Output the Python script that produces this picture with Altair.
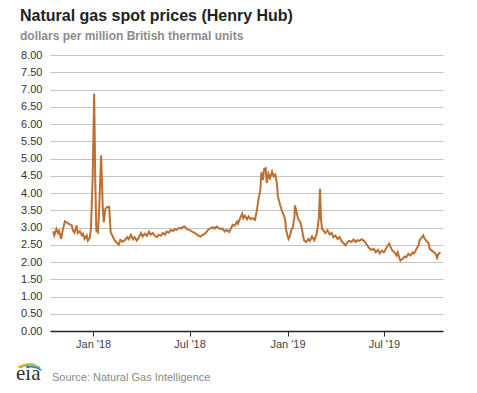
import altair as alt
import pandas as pd

# ---- data ----
dates = [
    "2017-10-18", "2017-10-20", "2017-10-24", "2017-10-27", "2017-10-29", "2017-11-02", "2017-11-04",
    "2017-11-09", "2017-11-14", "2017-11-18", "2017-11-22", "2017-11-24", "2017-11-27", "2017-12-01",
    "2017-12-03", "2017-12-07", "2017-12-11", "2017-12-13", "2017-12-16", "2017-12-20", "2017-12-22",
    "2017-12-26", "2017-12-28", "2017-12-31", "2018-01-03", "2018-01-05", "2018-01-07", "2018-01-10",
    "2018-01-12", "2018-01-16", "2018-01-19", "2018-01-21", "2018-01-24", "2018-01-27", "2018-01-31",
    "2018-02-03", "2018-02-06", "2018-02-10", "2018-02-14", "2018-02-18", "2018-02-21", "2018-02-25",
    "2018-03-02", "2018-03-06", "2018-03-09", "2018-03-13", "2018-03-17", "2018-03-20", "2018-03-24",
    "2018-03-28", "2018-04-01", "2018-04-04", "2018-04-08", "2018-04-12", "2018-04-16", "2018-04-19",
    "2018-04-23", "2018-04-27", "2018-05-01", "2018-05-04", "2018-05-08", "2018-05-12", "2018-05-16",
    "2018-05-19", "2018-05-23", "2018-05-27", "2018-05-31", "2018-06-03", "2018-06-07", "2018-06-11",
    "2018-06-15", "2018-06-18", "2018-06-22", "2018-06-26", "2018-06-30", "2018-07-03", "2018-07-07",
    "2018-07-11", "2018-07-15", "2018-07-18", "2018-07-22", "2018-07-26", "2018-07-30", "2018-08-06",
    "2018-08-10", "2018-08-14", "2018-08-17", "2018-08-21", "2018-08-25", "2018-08-29", "2018-09-01",
    "2018-09-05", "2018-09-09", "2018-09-13", "2018-09-16", "2018-09-20", "2018-09-24", "2018-09-28",
    "2018-09-30", "2018-10-04", "2018-10-08", "2018-10-10", "2018-10-13", "2018-10-17", "2018-10-20",
    "2018-10-24", "2018-10-28", "2018-11-01", "2018-11-04", "2018-11-08", "2018-11-11", "2018-11-13",
    "2018-11-16", "2018-11-18", "2018-11-21", "2018-11-23", "2018-11-26", "2018-11-29", "2018-12-03",
    "2018-12-06", "2018-12-09", "2018-12-12", "2018-12-14", "2018-12-18", "2018-12-22", "2018-12-26",
    "2018-12-28", "2018-12-29", "2019-01-01", "2019-01-03", "2019-01-06", "2019-01-08", "2019-01-11",
    "2019-01-14", "2019-01-15", "2019-01-18", "2019-01-21", "2019-01-25", "2019-01-28", "2019-02-01",
    "2019-02-05", "2019-02-09", "2019-02-12", "2019-02-16", "2019-02-20", "2019-02-24", "2019-02-26",
    "2019-03-01", "2019-03-03", "2019-03-05", "2019-03-07", "2019-03-10", "2019-03-13", "2019-03-17",
    "2019-03-21", "2019-03-25", "2019-03-28", "2019-04-01", "2019-04-05", "2019-04-09", "2019-04-12",
    "2019-04-16", "2019-04-20", "2019-04-24", "2019-04-27", "2019-05-01", "2019-05-05", "2019-05-09",
    "2019-05-12", "2019-05-16", "2019-05-20", "2019-05-24", "2019-05-28", "2019-06-01", "2019-06-05",
    "2019-06-08", "2019-06-12", "2019-06-16", "2019-06-20", "2019-06-23", "2019-06-27", "2019-07-01",
    "2019-07-05", "2019-07-08", "2019-07-11", "2019-07-13", "2019-07-17", "2019-07-21", "2019-07-25",
    "2019-07-27", "2019-07-30", "2019-08-01", "2019-08-05", "2019-08-09", "2019-08-12", "2019-08-16",
    "2019-08-20", "2019-08-24", "2019-08-27", "2019-08-31", "2019-09-04", "2019-09-06", "2019-09-10",
    "2019-09-13", "2019-09-15", "2019-09-19", "2019-09-23", "2019-09-25", "2019-09-29", "2019-10-03",
    "2019-10-06", "2019-10-09", "2019-10-11", "2019-10-15",
]
prices = [
    2.89, 2.77, 2.96, 2.84, 2.90, 2.67, 2.86,
    3.18, 3.13, 3.09, 3.06, 2.91, 2.85, 3.06,
    2.84, 2.89, 2.77, 2.82, 2.67, 2.77, 2.62,
    2.72, 3.00, 4.36, 6.88, 4.36, 2.91, 2.86,
    3.40, 5.09, 3.59, 3.15, 3.54, 3.59, 3.60,
    2.86, 2.77, 2.64, 2.57, 2.50, 2.64, 2.59,
    2.64, 2.72, 2.66, 2.79, 2.66, 2.72, 2.62,
    2.72, 2.84, 2.74, 2.82, 2.76, 2.88, 2.79,
    2.84, 2.76, 2.72, 2.79, 2.76, 2.84, 2.79,
    2.88, 2.85, 2.93, 2.90, 2.95, 2.93, 2.99,
    2.97, 3.01, 3.03, 2.95, 2.93, 2.91, 2.87,
    2.84, 2.80, 2.76, 2.74, 2.79, 2.82, 2.95,
    2.98, 3.01, 2.97, 3.03, 2.98, 2.95, 2.97,
    2.88, 2.93, 2.87, 2.95, 3.08, 3.05, 3.17,
    3.11, 3.27, 3.40, 3.27, 3.34, 3.24, 3.32,
    3.24, 3.27, 3.22, 3.46, 3.85, 4.09, 4.60,
    4.38, 4.69, 4.72, 4.29, 4.56, 4.43, 4.62,
    4.48, 4.53, 4.29, 3.90, 3.66, 3.46, 3.32,
    3.17, 2.96, 2.77, 2.67, 2.77, 2.92, 3.01,
    3.30, 3.64, 3.45, 3.25, 3.16, 2.96, 2.63,
    2.58, 2.67, 2.61, 2.74, 2.63, 2.77, 2.92,
    3.30, 4.12, 3.21, 2.96, 2.90, 2.84, 2.92,
    2.80, 2.84, 2.72, 2.77, 2.67, 2.72, 2.61,
    2.55, 2.48, 2.58, 2.61, 2.58, 2.65, 2.58,
    2.63, 2.61, 2.66, 2.62, 2.55, 2.45, 2.38,
    2.35, 2.38, 2.28, 2.35, 2.25, 2.33, 2.28,
    2.38, 2.48, 2.53, 2.45, 2.33, 2.28, 2.19,
    2.28, 2.12, 2.04, 2.09, 2.16, 2.14, 2.24,
    2.19, 2.28, 2.25, 2.38, 2.48, 2.63, 2.71,
    2.77, 2.68, 2.61, 2.55, 2.38, 2.33, 2.28,
    2.24, 2.12, 2.22, 2.28,
]
y_ticks = [i * 0.5 for i in range(17)]

title_text = "Natural gas spot prices (Henry Hub)"
subtitle_text = "dollars per million British thermal units"
source_text = "Source: Natural Gas Intelligence"
logo_text = "eia"

df = pd.DataFrame({"date": pd.to_datetime(dates), "price": prices})

FONT = "Liberation Sans"
W, H = 393, 276

line = alt.Chart(df).mark_line(color="#bd6f30", strokeWidth=2).encode(
    x=alt.X(
        "date:T",
        title=None,
        scale=alt.Scale(domain=[alt.DateTime(year=2017, month=10, date=12),
                                alt.DateTime(year=2019, month=10, date=20)]),
        axis=alt.Axis(
            values=[alt.DateTime(year=2018, month=1, date=1), alt.DateTime(year=2018, month=7, date=1),
                    alt.DateTime(year=2019, month=1, date=1), alt.DateTime(year=2019, month=7, date=1)],
            format="%b '%y", grid=False, domainColor="#222222", domainWidth=1.5,
            tickColor="#222222", tickSize=5, labelPadding=2, labelFontSize=11,
            labelColor="#444444", labelFont=FONT,
        ),
    ),
    y=alt.Y(
        "price:Q",
        title=None,
        scale=alt.Scale(domain=[0, 8], nice=False),
        axis=alt.Axis(
            values=y_ticks, format=".2f", domain=False, ticks=False, labelPadding=8,
            labelFontSize=11, labelColor="#333333", labelFont=FONT,
            gridColor="#c4c4c4", gridWidth=1,
        ),
    ),
)

one = pd.DataFrame({"t": [source_text]})
source = alt.Chart(one).mark_text(
    align="left", baseline="alphabetic", fontSize=11, font=FONT, color="#8a8a8a"
).encode(x=alt.value(2), y=alt.value(326), text="t:N")

eia_df = pd.DataFrame({"t": [logo_text]})
eia = alt.Chart(eia_df).mark_text(
    align="left", baseline="alphabetic", fontSize=21, font="Liberation Serif", color="#333333"
).encode(x=alt.value(-34), y=alt.value(325), text="t:N")

swoosh_df = pd.DataFrame({"k": [0]})
arc_y = alt.Chart(swoosh_df).mark_arc(radius=25, radius2=23.5, theta=5.75, theta2=6.5, color="#f2c21b").encode(
    x=alt.value(-20), y=alt.value(333))
arc_g = alt.Chart(swoosh_df).mark_arc(radius=23.5, radius2=22, theta=5.8, theta2=6.75, color="#7cb342").encode(
    x=alt.value(-20), y=alt.value(333))
arc_b = alt.Chart(swoosh_df).mark_arc(radius=22, radius2=20.5, theta=6.1, theta2=6.85, color="#2e86c1").encode(
    x=alt.value(-20), y=alt.value(333))

chart = alt.layer(line, source, eia, arc_y, arc_g, arc_b).properties(
    width=W,
    height=H,
    autosize=alt.AutoSizeParams(type="none"),
    padding={"left": 42, "top": 47, "right": 26, "bottom": 54},
    title=alt.Title(
        text=title_text,
        subtitle=subtitle_text,
        anchor="start",
        frame="group",
        dx=-30,
        offset=7,
        font=FONT,
        fontSize=16,
        fontWeight="bold",
        color="#222222",
        subtitleFont=FONT,
        subtitleFontSize=12,
        subtitleFontWeight="bold",
        subtitleColor="#8c8c8c",
        subtitlePadding=7,
    ),
).configure_view(stroke=None)

chart.save("out.html", embed_options={"renderer": "svg", "actions": False})
